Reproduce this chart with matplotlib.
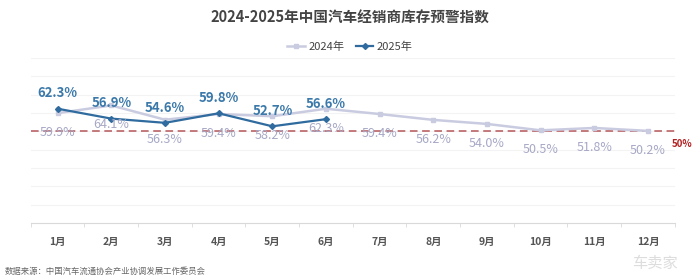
import matplotlib.pyplot as plt
import numpy as np

plt.rcParams['font.family'] = ['Noto Sans CJK SC', 'DejaVu Sans']

months = ['1月', '2月', '3月', '4月', '5月', '6月', '7月', '8月', '9月', '10月', '11月', '12月']
vals_2024 = [59.9, 64.1, 56.3, 59.4, 58.2, 62.3, 59.4, 56.2, 54.0, 50.5, 51.8, 50.2]
vals_2025 = [62.3, 56.9, 54.6, 59.8, 52.7, 56.6]
warn_line = 50

c24_line = '#c9cbe0'
c24_text = '#a6a8c6'
c25_line = '#2f6b9e'
c25_text = '#3b79aa'

fig = plt.figure(figsize=(7, 2.8), dpi=100)
ax = fig.add_axes([0.044, 0.204, 0.92, 0.589])

x24 = np.arange(len(vals_2024))
x25 = np.arange(len(vals_2025))

# faint grid
for g in range(10, 100, 10):
    ax.axhline(g, color='#f3f3f3', lw=0.8, zorder=0)

ax.axhline(warn_line, color='#b5565a', lw=1.1, ls=(0, (5, 3)), zorder=1)

ax.plot(x24, vals_2024, color=c24_line, lw=1.8, marker='s', ms=3, zorder=2, label='2024年')
ax.plot(x25, vals_2025, color=c25_line, lw=1.6, marker='D', ms=3, zorder=3, label='2025年')

for i, v in enumerate(vals_2024):
    ax.annotate(f'{v:.1f}%', (i, v), xytext=(0, -14), textcoords='offset points',
                ha='center', va='center', fontsize=9, color=c24_text, zorder=4)
for i, v in enumerate(vals_2025):
    ax.annotate(f'{v:.1f}%', (i, v), xytext=(0, 11), textcoords='offset points',
                ha='center', va='center', fontsize=9.5, color=c25_text,
                fontweight='bold', zorder=4)

ax.annotate(f'{warn_line}%', (1.0, warn_line), xycoords=('axes fraction', 'data'),
            xytext=(5, -9), textcoords='offset points', ha='center', va='center',
            fontsize=7, color='#b22222', fontweight='bold', annotation_clip=False)

ax.set_xlim(-0.5, 11.5)
ax.set_ylim(0, 90)
ax.set_yticks([])
ax.set_xticks(x24)
ax.set_xticklabels(months, fontsize=7.5, color='#555555', fontweight='bold')
ax.set_xticks(np.arange(-0.5, 12, 1), minor=True)
ax.tick_params(axis='x', which='major', length=0, pad=10)
ax.tick_params(axis='x', which='minor', length=3, color='#d9d9d9')
for s in ['top', 'right', 'left']:
    ax.spines[s].set_visible(False)
ax.spines['bottom'].set_color('#d9d9d9')

fig.text(0.5, 0.935, '2024-2025年中国汽车经销商库存预警指数', ha='center', va='center',
         fontsize=10.5, fontweight='bold', color='#444444')
fig.legend(loc='center', bbox_to_anchor=(0.5, 0.832), ncol=2, frameon=False,
           fontsize=8, handlelength=1.6, columnspacing=1.0, handletextpad=0.3,
           labelcolor='#444444')
fig.text(0.007, 0.032, '数据来源：中国汽车流通协会产业协调发展工作委员会', ha='left', va='center',
         fontsize=6, color='#666666')
fig.text(0.935, 0.06, '车卖家', ha='center', va='center', fontsize=11, color='#dddddd')

fig.savefig('out.png', dpi=100, facecolor='white')
